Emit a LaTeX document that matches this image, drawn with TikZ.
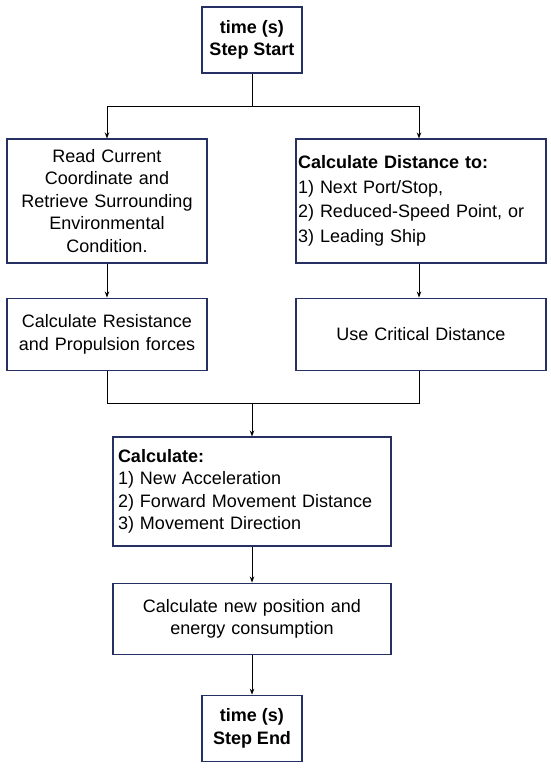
\documentclass[tikz,border=0pt]{standalone}
\usepackage{fontspec}
\setmainfont{Liberation Sans}
\usetikzlibrary{positioning,arrows.meta}
\definecolor{boxblue}{RGB}{38,48,98}

\begin{document}
\begin{tikzpicture}[x=1pt,y=1pt,
  box/.style = {draw=boxblue, line width=1.1pt, fill=white, inner sep=2pt,
                font=\fontsize{18}{22.5}\selectfont, align=center},
  endbox/.style = {box, minimum width=100pt, minimum height=66pt, font=\fontsize{18}{22.5}\selectfont\bfseries},
  link/.style = {line width=0.9pt, -{Stealth[length=6pt,width=4.5pt]}},
  plain/.style = {line width=0.9pt}]
	\useasboundingbox (0,0) rectangle (550,-770);
	\node[endbox] (start) at (252,-40) {time (s)\\Step Start};
	\node[box, text width=196pt, minimum height=124pt] (readc) at (107,-201)
		{Read Current\\Coordinate and\\Retrieve Surrounding\\Environmental\\Condition.};
	\node[box, text width=246pt, minimum height=124pt, align=left,
		font=\fontsize{18}{24.5}\selectfont] (dist) at (421,-201)
		{\textbf{Calculate Distance to:}\\1) Next Port/Stop,\\2) Reduced-Speed Point, or\\3) Leading Ship};
	\node[box, text width=196pt, minimum height=72pt] (resist) [below=34pt of readc]
		{Calculate Resistance\\and Propulsion forces};
	\node[box, text width=246pt, minimum height=72pt] (crit) [below=34pt of dist]
		{Use Critical Distance};
	\node[box, text width=268pt, inner xsep=5pt, minimum height=109pt, align=left] (calc) at (252,-491.5)
		{\textbf{Calculate:}\\1) New Acceleration\\2) Forward Movement Distance\\3) Movement Direction};
	\node[box, text width=274pt, minimum height=71pt] (newpos) [below=36pt of calc]
		{Calculate new position and\\energy consumption};
	\node[endbox] (stop) [below=40pt of newpos] {time (s)\\Step End};
	\coordinate (split) at (252,-106);
	\coordinate (merge) at (252,-403);
	\draw[plain] (start) -- (split);
	\draw[link] (split) -| (readc.north);
	\draw[link] (split) -| ([xshift=-2pt]dist.north);
	\draw[link] (readc) -- (resist);
	\draw[link] ([xshift=-2pt]dist.south) -- ([xshift=-2pt]crit.north);
	\draw[plain] (resist) |- (merge);
	\draw[plain] ([xshift=-2pt]crit.south) |- (merge);
	\draw[link] (merge) -- (calc);
	\draw[link] (calc) -- (newpos);
	\draw[link] (newpos) -- (stop);
\end{tikzpicture}
\end{document}
